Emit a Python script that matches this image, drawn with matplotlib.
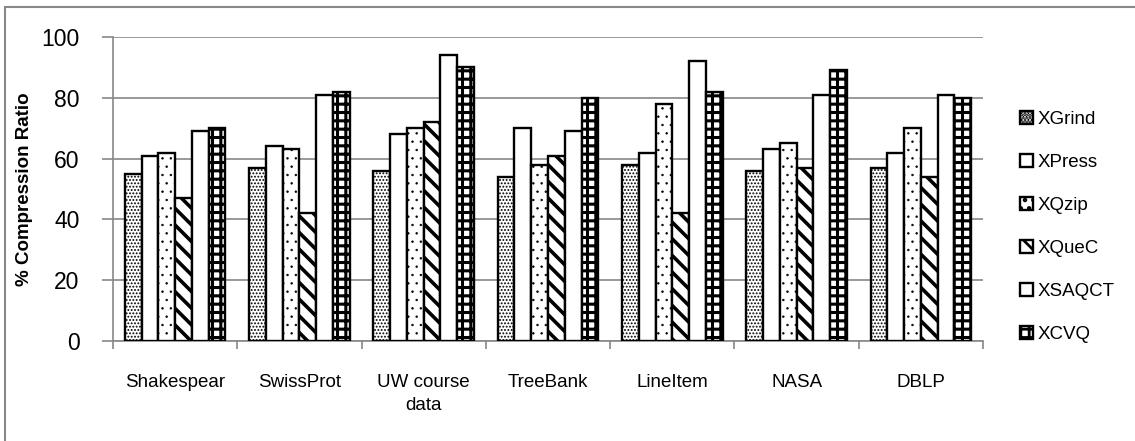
"""
Compression ratio of XML compressors, grouped bar chart (black and white hatches)
"""
import numpy as np

import matplotlib
matplotlib.use('Agg')
import matplotlib.pyplot as plt
from matplotlib.patches import Patch, Rectangle

datasets = ['Shakespear', 'SwissProt', 'UW course\ndata', 'TreeBank', 'LineItem', 'NASA', 'DBLP']
xgrind = [55, 57, 56, 54, 58, 56, 57]
xpress = [61, 64, 68, 70, 62, 63, 62]
xqzip = [62, 63, 70, 58, 78, 65, 70]
xquec = [47, 42, 72, 61, 42, 57, 54]
xsaqct = [69, 81, 94, 69, 92, 81, 81]
xcvq = [70, 82, 90, 80, 82, 89, 80]

series = [('XGrind', xgrind), ('XPress', xpress), ('XQzip', xqzip),
          ('XQueC', xquec), ('XSAQCT', xsaqct), ('XCVQ', xcvq)]
# hatch, hatch linewidth
styles = [('.....', 0.9), ('', 1.0), ('..', 0.5), ('\\\\', 2.6), ('', 1.0), ('++', 2.2)]

plt.rcParams['font.family'] = ['Liberation Sans', 'DejaVu Sans']
grey = '#888888'

fig = plt.figure(figsize=(11.35, 4.41), dpi=100)
ax = fig.add_axes([113/1135, 1 - 341/441, 870/1135, 304/441])

x = np.arange(len(datasets))
w = 0.135
leg_handles = []
for i, (name, vals) in enumerate(series):
    hatch, hlw = styles[i]
    with plt.rc_context({'hatch.linewidth': hlw, 'hatch.color': 'black'}):
        ax.bar(x + (i - 2.5)*w, vals, w, color='white', edgecolor='black',
               linewidth=1.7, hatch=hatch, zorder=3)
        leg_handles.append(Patch(facecolor='white', edgecolor='black', linewidth=1.7,
                                 hatch=hatch, label=name))

ax.set_xlim(-0.5, len(datasets) - 0.5)
ax.set_ylim(0, 100)
ax.set_yticks(np.arange(0, 101, 20))
ax.yaxis.grid(True, color=grey, linewidth=1.2, zorder=0)
ax.tick_params(axis='y', labelsize=16.5, length=8, color=grey, width=1.2, pad=16)
ax.set_xticks(np.arange(len(datasets) + 1) - 0.5)
ax.set_xticklabels([])
ax.set_xticks(x, minor=True)
ax.set_xticklabels(datasets, minor=True, fontsize=13.5, linespacing=1.45)
ax.tick_params(axis='x', which='major', length=6, color=grey, width=1.2)
ax.tick_params(axis='x', which='minor', length=0, pad=24)
for s in ['top', 'right']:
    ax.spines[s].set_visible(False)
for s in ['left', 'bottom']:
    ax.spines[s].set_color(grey)
    ax.spines[s].set_linewidth(1.2)

fig.text(25/1135, 1 - 189/441, '% Compression Ratio', fontsize=13.5, fontweight='bold',
         rotation=90, ha='center', va='center')

with plt.rc_context({'hatch.linewidth': 2.0}):
    ax.legend(handles=leg_handles, loc='upper left', bbox_to_anchor=(1020/1135, 1 - 111/441),
              bbox_transform=fig.transFigure, frameon=False, fontsize=13.5,
              handlelength=0.7, handleheight=0.7, handletextpad=0.25,
              labelspacing=1.38, borderpad=0, borderaxespad=0)

# chart area border (only top and left visible in the original)
fig.patches.append(Rectangle((5/1135, -0.5), 1.5, 1 - 7/441 + 0.5, transform=fig.transFigure,
                             fill=False, edgecolor=grey, linewidth=1.5))

plt.savefig('out.png', dpi=100)
